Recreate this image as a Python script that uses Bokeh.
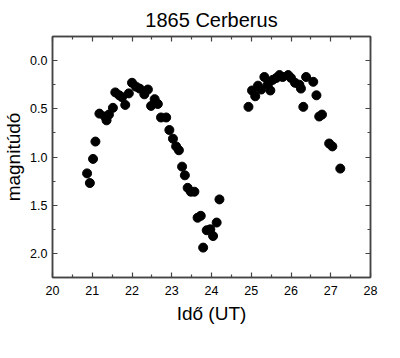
from bokeh.plotting import figure
from bokeh.models import (Range1d, LinearAxis, FixedTicker, Title,
                          PrintfTickFormatter, CustomJSTickFormatter)
from bokeh.embed import file_html
from bokeh.resources import INLINE

# Data (time in UT hours, magnitude)
time_ut = [20.87, 20.94, 21.02, 21.08, 21.18, 21.32, 21.36, 21.42, 21.52, 21.58,
           21.68, 21.75, 21.83, 21.92, 22.00, 22.10, 22.19, 22.31, 22.40, 22.48,
           22.57, 22.65, 22.73, 22.86, 22.94, 23.03, 23.11, 23.18, 23.26, 23.33,
           23.40, 23.48, 23.57, 23.65, 23.73, 23.79, 23.88, 23.97, 24.04, 24.13,
           24.20,
           24.93, 25.02, 25.10, 25.17, 25.25, 25.33, 25.42, 25.48, 25.54, 25.63,
           25.71, 25.79, 25.93, 26.00, 26.10, 26.21, 26.25, 26.31, 26.38, 26.56,
           26.64, 26.71, 26.78, 26.96, 27.04, 27.24]
magnitude = [1.17, 1.27, 1.02, 0.84, 0.55, 0.58, 0.62, 0.56, 0.49, 0.33,
             0.36, 0.38, 0.46, 0.34, 0.23, 0.27, 0.29, 0.35, 0.30, 0.47,
             0.40, 0.45, 0.59, 0.59, 0.72, 0.81, 0.89, 0.93, 1.10, 1.19,
             1.32, 1.36, 1.36, 1.63, 1.61, 1.94, 1.76, 1.75, 1.82, 1.68,
             1.44,
             0.48, 0.31, 0.37, 0.26, 0.30, 0.17, 0.245, 0.31, 0.20, 0.18,
             0.15, 0.17, 0.15, 0.18, 0.23, 0.25, 0.29, 0.48, 0.17, 0.22,
             0.36, 0.58, 0.56, 0.86, 0.89, 1.12]

x_ticks = [20, 21, 22, 23, 24, 25, 26, 27, 28]
x_minor = [20.5, 21.5, 22.5, 23.5, 24.5, 25.5, 26.5, 27.5]
y_ticks = [0.0, 0.5, 1.0, 1.5, 2.0]
y_minor = [-0.25, 0.25, 0.75, 1.25, 1.75, 2.25]

FONT = "Liberation Sans"
AXC = "#444444"

p = figure(width=400, height=358, output_backend="svg", toolbar_location=None,
           x_range=Range1d(20, 28), y_range=Range1d(2.25, -0.25),
           x_axis_label="Idő (UT)", y_axis_label="magnitúdó",
           min_border_left=50, min_border_right=30, min_border_bottom=81,
           min_border_top=10)
p.title = None

p.xgrid.visible = False
p.ygrid.visible = False
p.outline_line_color = AXC
p.outline_line_width = 1.5
p.background_fill_color = "white"
p.border_fill_color = "white"

p.scatter(time_ut, magnitude, size=9, color="black", marker="circle")

xt = FixedTicker(ticks=x_ticks, minor_ticks=x_minor)
yt = FixedTicker(ticks=y_ticks, minor_ticks=y_minor)

def style(ax, labels=True):
    ax.axis_line_color = AXC
    ax.axis_line_width = 1.5
    ax.major_tick_line_color = AXC
    ax.minor_tick_line_color = AXC
    ax.major_tick_line_width = 1.2
    ax.minor_tick_line_width = 1.2
    ax.major_tick_in = 5
    ax.major_tick_out = 0
    ax.minor_tick_in = 3
    ax.minor_tick_out = 0
    if labels:
        ax.major_label_text_font = FONT
        ax.major_label_text_font_size = "12.5px"
        ax.major_label_text_color = "black"
        ax.axis_label_text_font = FONT
        ax.axis_label_text_font_size = "19px"
        ax.axis_label_text_font_style = "normal"
        ax.axis_label_text_color = "black"
    else:
        ax.formatter = CustomJSTickFormatter(code="return ''")
        ax.major_label_standoff = 0

xa = p.xaxis[0]
xa.ticker = xt
style(xa)
xa.major_label_standoff = 8
xa.axis_label_standoff = 5

ya = p.yaxis[0]
ya.ticker = yt
style(ya)
ya.formatter = PrintfTickFormatter(format="%.1f")
ya.major_label_standoff = 5
ya.axis_label_standoff = 3

top = LinearAxis(ticker=xt)
style(top, labels=False)
p.add_layout(top, "above")
right = LinearAxis(ticker=yt)
style(right, labels=False)
p.add_layout(right, "right")

p.add_layout(Title(text="1865 Cerberus", align="center", text_font=FONT,
                   text_font_size="20px", text_font_style="normal",
                   text_color="black", standoff=12), "above")

open("out.html", "w").write(file_html(p, INLINE))
